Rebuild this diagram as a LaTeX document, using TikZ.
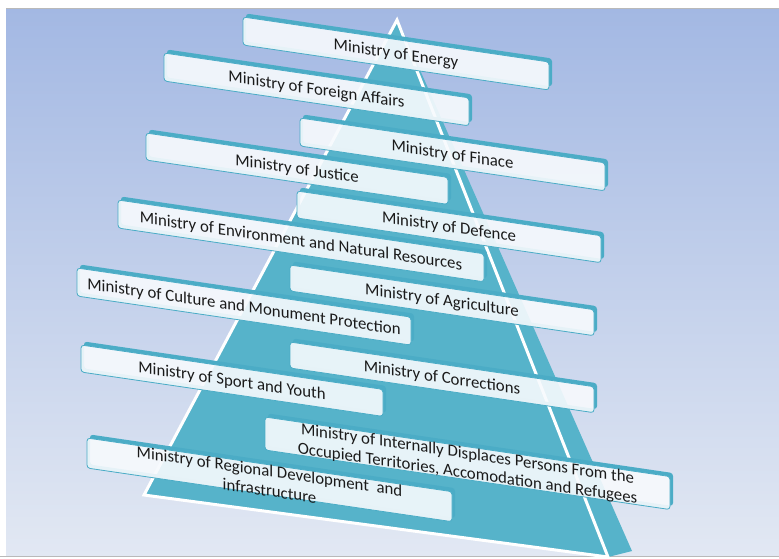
\documentclass[tikz,border=0pt]{standalone}
\usepackage{fontspec}
\setmainfont{Carlito}
\definecolor{bgtop}{HTML}{A3B8E3}
\definecolor{bgbot}{HTML}{E2E8F3}
\definecolor{pyr}{HTML}{56B3CA}
\definecolor{boxedge}{HTML}{4BACC6}
\definecolor{boxfill}{HTML}{F7FAFD}
\definecolor{txt}{HTML}{1A1A1A}
\newcommand\minbox[6]{% #1 name, #2 x, #3 y, #4 w, #5 h, #6 text
  \pgfmathsetmacro\xa{#2}\pgfmathsetmacro\xb{#2+#4}%
  \pgfmathsetmacro\ya{#3}\pgfmathsetmacro\yb{#3+0.147*#4}%
  \pgfmathsetmacro\yc{#3+#5}\pgfmathsetmacro\yd{#3+0.147*#4+#5}%
  \fill[boxedge, rounded corners=3, even odd rule]
    (\xa+3,\ya-3.5) -- (\xb+3,\yb-3.5) -- (\xb+3,\yd-3.5) -- (\xa+3,\yc-3.5) -- cycle
    (\xa,\ya) -- (\xb,\yb) -- (\xb,\yd) -- (\xa,\yc) -- cycle;
  \filldraw[fill=boxfill, fill opacity=0.9, draw=boxedge, line width=0.8, rounded corners=3]
    (\xa,\ya) -- (\xb,\yb) -- (\xb,\yd) -- (\xa,\yc) -- cycle;
  \node[mtext] (#1) at ({#2+#4/2},{#3+0.0735*#4+#5/2+1}) {#6};
}
\begin{document}
\begin{tikzpicture}[x=1pt,y=-1pt,
  mtext/.style={font=\fontsize{16.8}{19.5}\selectfont, text=txt, yslant=-0.147, align=center, inner sep=0pt}]
\useasboundingbox (0,0) rectangle (779,558);
% background
\shade[top color=bgtop, bottom color=bgbot] (6,8) rectangle (779,556);
\draw[gray!55, line width=0.8] (6,8) -- (779,8);
\draw[gray!55, line width=1] (0,556) -- (779,556);
% pyramid
\fill[pyr] (398,20) -- (632,551) -- (608,557) -- cycle;
\filldraw[fill=pyr, draw=white, line width=3, line join=miter] (397,20) -- (144,495) -- (608,557) -- cycle;
% boxes
\minbox{energy}{243}{17}{306}{28}{Ministry of Energy}
\minbox{foreign}{164}{53}{305}{28}{Ministry of Foreign Affairs}
\minbox{finace}{300}{118}{305}{28}{Ministry of Finace}
\minbox{justice}{146}{133}{302}{27}{Ministry of Justice}
\minbox{defence}{297}{191}{304}{27}{Ministry of Defence}
\minbox{environment}{118}{200}{366}{28}{Ministry of Environment and Natural Resources}
\minbox{agriculture}{290}{265}{304}{26}{Ministry of Agriculture}
\minbox{culture}{77}{268}{334}{28}{Ministry of Culture and Monument Protection}
\minbox{corrections}{290}{342}{304}{26}{Ministry of Corrections}
\minbox{sport}{81}{345}{302}{27}{Ministry of Sport and Youth}
\minbox{idp}{265}{417}{405}{33}{Ministry of Internally Displaces Persons From the\\Occupied Territories, Accomodation and Refugees}
\minbox{regional}{87}{438}{365}{30}{Ministry of Regional Development~ and\\infrastructure}
\end{tikzpicture}
\end{document}
